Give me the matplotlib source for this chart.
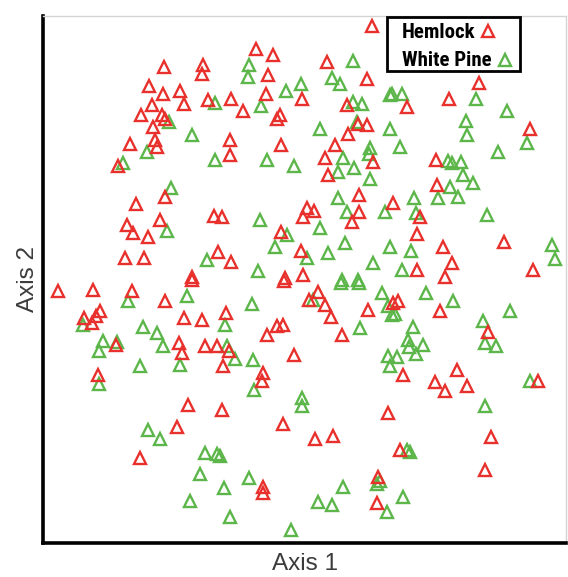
import matplotlib
matplotlib.use("Agg")
import matplotlib.pyplot as plt
from matplotlib.font_manager import FontProperties
from matplotlib.lines import Line2D
from matplotlib.patches import Rectangle

# Ordination scores (Axis 1, Axis 2) for each sampled tree
hemlock_ax1 = [164, 203, 202, 149, 163, 180, 184, 152, 208, 141, 162, 165, 153, 130, 155, 157,
               372, 256, 273, 268, 327, 367, 266, 231, 302, 243, 280, 277, 347, 358, 367, 348, 230, 281, 335,
               479, 407, 449, 530,
               118, 165, 136, 160, 127, 133, 148, 214, 125, 144, 218, 192,
               230, 325, 373, 328, 359, 307, 314, 303, 359, 352, 393, 222, 281, 301, 231, 285, 303,
               436, 437, 420, 417, 443, 504, 533, 417, 452, 445,
               58, 93, 132, 165, 192, 100, 96, 84, 92, 184, 202, 116, 179, 182, 205, 217, 98, 188,
               284, 318, 309, 325, 331, 368, 393, 226, 277, 283, 267, 342, 229, 223, 294, 263, 262, 222, 388,
               398, 440, 488, 403, 457, 435, 467, 445, 538,
               177, 140,
               283, 315, 333, 263, 263, 378, 377,
               400, 491, 485]
hemlock_ax2 = [67, 65, 74, 86, 94, 91, 104, 105, 100, 115, 115, 119, 127, 144, 140, 147,
               26, 49, 55, 75, 62, 79, 94, 99, 99, 111, 115, 119, 105, 124, 125, 134, 140, 145, 145,
               83, 107, 99, 129,
               166, 197, 204, 220, 225, 233, 237, 216, 258, 258, 252, 277,
               155, 158, 162, 175, 195, 208, 211, 217, 212, 222, 203, 217, 232, 251, 262, 278, 275,
               160, 185, 217, 234, 247, 242, 270, 270, 263, 277,
               291, 290, 291, 301, 280, 311, 316, 318, 323, 318, 320, 345, 343, 353, 346, 346, 375, 405,
               281, 292, 300, 305, 317, 310, 303, 313, 326, 325, 335, 335, 351, 366, 355, 373, 381, 410, 413,
               301, 311, 332, 375, 370, 382, 386, 391, 381,
               427, 458,
               424, 439, 436, 487, 493, 477, 503,
               450, 437, 470]

pine_ax1 = [215, 169, 192,
            249, 248, 353, 332, 340, 301, 286, 261, 353, 362, 390, 357, 320, 390, 370,
            392, 402, 476, 507, 466, 467, 527, 400, 498,
            147, 123, 215, 171, 167, 207,
            267, 294, 343, 338, 354, 369, 370, 338, 347, 385, 260, 287, 320, 275, 307, 328, 345, 258, 342, 358, 373, 390,
            448, 452, 461, 463, 473, 450, 438, 458, 414, 416, 487, 552, 555, 411, 402,
            128, 187, 83, 143, 157, 163, 103, 99, 117, 140, 180, 99,
            341, 359, 313, 252, 382, 388, 392, 225, 360, 227, 235, 253, 254, 388, 390, 302, 302,
            426, 395, 453, 510, 413, 408, 409, 423, 416, 397, 483, 485, 496, 530, 485,
            148, 160, 205, 217, 200, 190,
            220, 249, 224, 343, 318, 332, 380, 377, 387, 230, 291,
            407, 410, 403]
pine_ax2 = [103, 122, 135,
            65, 77, 61, 78, 84, 84, 91, 106, 102, 104, 95, 122, 129, 129, 148,
            94, 94, 99, 111, 121, 135, 143, 147, 152,
            152, 163, 160, 188, 231, 260,
            160, 166, 158, 172, 168, 154, 179, 198, 212, 212, 220, 235, 228, 247, 258, 253, 243, 271, 280, 280, 263, 247,
            161, 163, 162, 175, 183, 187, 198, 197, 198, 213, 215, 245, 259, 251, 270,
            301, 296, 325, 327, 333, 346, 341, 351, 342, 366, 365, 384,
            283, 283, 300, 304, 293, 306, 315, 325, 328, 346, 359, 360, 390, 356, 366, 398, 406,
            293, 314, 301, 311, 327, 340, 347, 345, 354, 357, 321, 343, 346, 381, 406,
            430, 439, 453, 454, 474, 501,
            456, 478, 488, 487, 502, 505, 481, 484, 512, 517, 530,
            450, 452, 497]

species = ["Hemlock", "White Pine"]
colors = ["#e8312c", "#5cb64a"]

W, H, DPI = 568, 577, 100
fig = plt.figure(figsize=(W / DPI, H / DPI), dpi=DPI)
ax = fig.add_axes([43 / W, (H - 543) / H, (566 - 43) / W, (543 - 16) / H])

marker_kw = dict(marker="^", linestyle="none", markersize=8.6,
                 markerfacecolor="none", markeredgewidth=1.7)
ax.plot(pine_ax1, pine_ax2, markeredgecolor=colors[1], **marker_kw)
ax.plot(hemlock_ax1, hemlock_ax2, markeredgecolor=colors[0], **marker_kw)

ax.set_xlim(43, 566)
ax.set_ylim(543, 16)
ax.set_xticks([])
ax.set_yticks([])
for side in ("left", "bottom"):
    ax.spines[side].set_linewidth(2.6)
    ax.spines[side].set_color("black")
for side in ("top", "right"):
    ax.spines[side].set_linewidth(1.0)
    ax.spines[side].set_color("#d4d4d4")

label_font = dict(family=["Liberation Sans", "Arial", "DejaVu Sans"], size=17.5, color="#3c3c3c")
ax.set_xlabel("Axis 1", labelpad=7, **label_font)
ax.set_ylabel("Axis 2", labelpad=3, **label_font)

# Legend: framed box, each species name followed by its symbol
def fig_xy(px, py):
    return px / W, 1 - py / H

box_x0, box_y0, box_x1, box_y1 = 387, 17, 520, 71
bx, by = fig_xy(box_x0, box_y1)
fig.patches.append(Rectangle((bx, by), (box_x1 - box_x0) / W, (box_y1 - box_y0) / H,
                             transform=fig.transFigure, facecolor="white",
                             edgecolor="black", linewidth=2.0, zorder=5))

leg_font = FontProperties(family=["Roboto Condensed", "DejaVu Sans"],
                          weight="bold", size=15)
row_y = [32, 61]
gaps = [6, 7]
renderer = fig.canvas.get_renderer()
for name, color, ry, gap in zip(species, colors, row_y, gaps):
    tx, ty = fig_xy(402, ry)
    t = fig.text(tx, ty, name, fontproperties=leg_font, color="black",
                 ha="left", va="center", zorder=6)
    ext = t.get_window_extent(renderer=renderer)
    mx = (ext.x1 + gap + 6) / W
    fig.add_artist(Line2D([mx], [ty + 1 / H], transform=fig.transFigure,
                          markeredgecolor=color, zorder=6, **marker_kw))

fig.savefig("out.png", dpi=DPI)
